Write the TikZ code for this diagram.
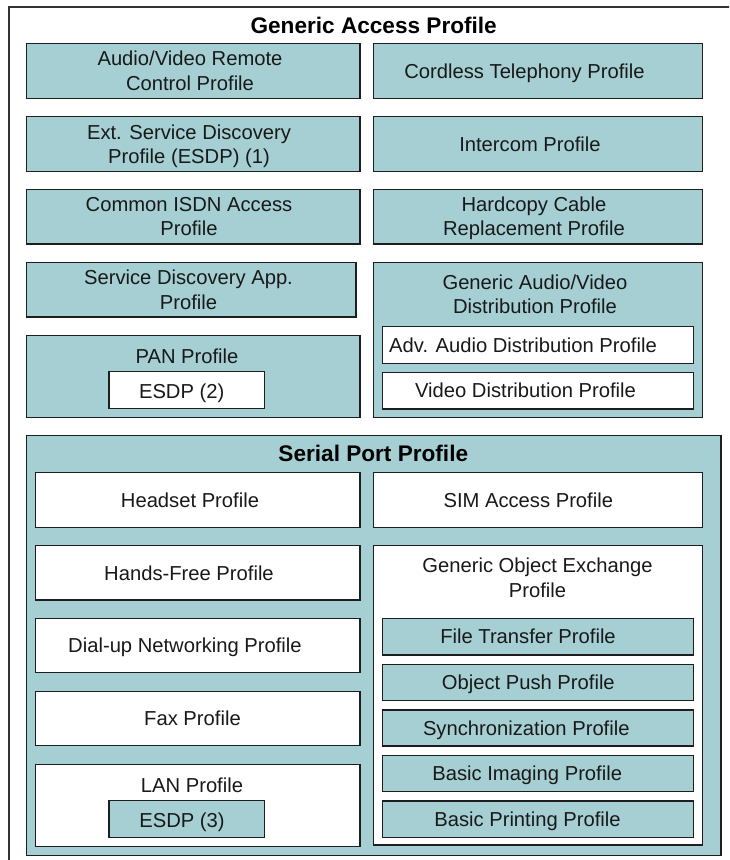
\documentclass[tikz,border=0pt]{standalone}
\usepackage{fontspec}
\setmainfont{Liberation Sans}
\definecolor{tealfill}{RGB}{165,207,211}
\definecolor{edge}{RGB}{30,30,30}
\definecolor{ink}{RGB}{25,25,25}
\newcommand{\profbox}[6]{\node[#2, minimum width={#5-#3}, minimum height={#6-#4}] (#1) at ({(#3+#5)/2},{(#4+#6)/2}) {};}
\tikzset{
  tealbox/.style={draw=edge, line width=1.3pt, fill=tealfill, inner sep=0pt, outer sep=0pt},
  whitebox/.style={draw=edge, line width=1.3pt, fill=white, inner sep=0pt, outer sep=0pt},
  frame/.style={draw=black!80, line width=1.2pt, fill=white, inner sep=0pt, outer sep=0pt},
  lbl/.style={anchor=base, inner sep=0pt, text=ink, align=center, font=\fontsize{20.2}{24.3}\selectfont},
  ttl/.style={anchor=base, inner sep=0pt, text=black, font=\fontsize{22.6}{26}\selectfont\bfseries}
}
\begin{document}
\begin{tikzpicture}[x=1pt,y=-1pt]
\path[use as bounding box, clip] (0,0) rectangle (729,860);
\fill[white] (0,0) rectangle (729,860);
% outer frame (cropped at right and bottom)
\profbox{gap}{frame}{9}{7}{760}{900}
\node[ttl] (gapt) at (373.7,33.3) {Generic Access Profile};
% left column (two-line labels are anchored at the last line's baseline)
\profbox{avrc}{tealbox}{26.7}{43.3}{360}{98.3}
\node[lbl] (avrct) at (190,90.1) {Audio/Video Remote\\Control Profile};
\profbox{esdp}{tealbox}{26.7}{116.7}{360}{171.7}
\node[lbl] (esdpt) at (189,163.5) {Ext. Service Discovery\\Profile (ESDP) (1)};
\profbox{isdn}{tealbox}{26.7}{189.3}{360}{244}
\node[lbl] (isdnt) at (189,235.9) {Common ISDN Access\\Profile};
\profbox{sdap}{tealbox}{26.7}{262.7}{356}{317}
\node[lbl] (sdapt) at (188.5,309.1) {Service Discovery App.\\Profile};
\profbox{pan}{tealbox}{26.7}{335.7}{360}{417.7}
\node[lbl] (pant) at (187,363.3) {PAN Profile};
\profbox{esdptwo}{whitebox}{109}{371.7}{264.3}{408.7}
\node[lbl] (esdptwot) at (181.7,398) {ESDP (2)};
% right column
\profbox{ctp}{tealbox}{373.3}{43.3}{702.3}{98.3}
\node[lbl] (ctpt) at (524.5,78) {Cordless Telephony Profile};
\profbox{icp}{tealbox}{373.3}{116.7}{702.3}{171.7}
\node[lbl] (icpt) at (530,151.4) {Intercom Profile};
\profbox{hcrp}{tealbox}{373.3}{189.3}{702.3}{244}
\node[lbl] (hcrpt) at (534,235.9) {Hardcopy Cable\\Replacement Profile};
\profbox{gavdp}{tealbox}{373.3}{262.7}{702.3}{417.7}
\node[lbl] (gavdpt) at (535,313.6) {Generic Audio/Video\\Distribution Profile};
\profbox{a2dp}{whitebox}{382.7}{326.7}{693.3}{363.3}
\node[lbl] (a2dpt) at (523,352.2) {Adv. Audio Distribution Profile};
\profbox{vdp}{whitebox}{382.7}{372.3}{693.3}{409}
\node[lbl] (vdpt) at (525.5,397.9) {Video Distribution Profile};
% serial port profile
\profbox{spp}{tealbox}{26.7}{435.7}{721}{855.5}
\node[ttl] (sppt) at (373.3,461.7) {Serial Port Profile};
\profbox{hsp}{whitebox}{35.7}{472.3}{360}{527.3}
\node[lbl] (hspt) at (190,507) {Headset Profile};
\profbox{hfp}{whitebox}{35.7}{545.7}{360}{600}
\node[lbl] (hfpt) at (189,580) {Hands-Free Profile};
\profbox{dun}{whitebox}{35.7}{618.3}{360}{672.7}
\node[lbl] (dunt) at (185,652.7) {Dial-up Networking Profile};
\profbox{fax}{whitebox}{35.7}{691.7}{360}{745.7}
\node[lbl] (faxt) at (192.5,725.9) {Fax Profile};
\profbox{lan}{whitebox}{35.7}{764.3}{360}{846.7}
\node[lbl] (lant) at (192,792.7) {LAN Profile};
\profbox{esdpthree}{tealbox}{109}{800.7}{264.3}{837.7}
\node[lbl] (esdpthreet) at (182,827) {ESDP (3)};
\profbox{sap}{whitebox}{373.3}{472.3}{702.3}{527.3}
\node[lbl] (sapt) at (528.3,507) {SIM Access Profile};
\profbox{goep}{whitebox}{373.3}{545.7}{702.3}{845}
\node[lbl] (goept) at (537.5,597) {Generic Object Exchange\\Profile};
\profbox{ftp}{tealbox}{382.7}{618.3}{693.3}{655}
\node[lbl] (ftpt) at (528,643.9) {File Transfer Profile};
\profbox{opp}{tealbox}{382.7}{664.3}{693.3}{700.7}
\node[lbl] (oppt) at (528.3,689.7) {Object Push Profile};
\profbox{sync}{tealbox}{382.7}{710}{693.3}{746}
\node[lbl] (synct) at (526.3,735.2) {Synchronization Profile};
\profbox{bip}{tealbox}{382.7}{755.7}{693.3}{791.7}
\node[lbl] (bipt) at (527.2,780.9) {Basic Imaging Profile};
\profbox{bpp}{tealbox}{382.7}{801}{693.3}{837.7}
\node[lbl] (bppt) at (527.5,826.5) {Basic Printing Profile};
\end{tikzpicture}
\end{document}
